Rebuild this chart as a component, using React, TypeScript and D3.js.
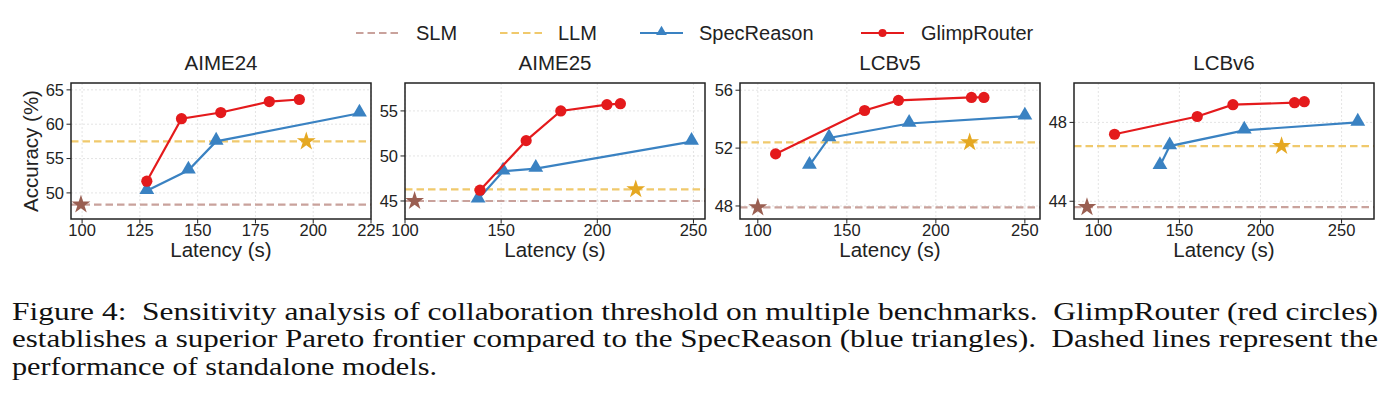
import React from 'react';
import * as d3 from 'd3';

// benchmark names, one per panel
const benchmarks = ['AIME24', 'AIME25', 'LCBv5', 'LCBv6'];

// GlimpRouter sweep: latency (s) and accuracy (%)
const glimpLatency = [
  [128, 143, 160, 181, 194],
  [139, 163, 181, 205, 212],
  [110, 160, 179, 220, 227],
  [110, 161, 183, 221, 227],
];
const glimpAccuracy = [
  [51.7, 60.8, 61.7, 63.3, 63.6],
  [46.2, 51.7, 55.0, 55.7, 55.8],
  [51.6, 54.6, 55.3, 55.5, 55.5],
  [47.4, 48.3, 48.9, 49.0, 49.05],
];

// SpecReason sweep
const specLatency = [
  [128, 146, 158, 220],
  [138, 151, 168, 249],
  [129, 140, 185, 250],
  [138, 144, 190, 260],
];
const specAccuracy = [
  [50.3, 53.3, 57.5, 61.6],
  [45.2, 48.3, 48.6, 51.6],
  [50.8, 52.7, 53.7, 54.2],
  [45.8, 46.8, 47.6, 48.0],
];

// standalone models: [latency, accuracy]
const slmPoint = [
  [99.5, 48.3],
  [105, 45.0],
  [100, 47.9],
  [93, 43.7],
];
const llmPoint = [
  [197, 57.5],
  [220, 46.3],
  [219, 52.4],
  [213, 46.8],
];

// axis ranges and tick labels
const xDomains = [[95.2, 225], [100, 256], [90, 258.5], [85, 270]];
const yDomains = [[46.2, 66], [43, 58.1], [47.1, 56.5], [43.1, 50.0]];
const xTickValues = [
  [100, 125, 150, 175, 200, 225],
  [100, 150, 200, 250],
  [100, 150, 200, 250],
  [100, 150, 200, 250],
];
const yTickValues = [[50, 55, 60, 65], [45, 50, 55], [48, 52, 56], [44, 48]];

const captionLines = [
  'Figure 4:  Sensitivity analysis of collaboration threshold on multiple benchmarks.  GlimpRouter (red circles)',
  'establishes a superior Pareto frontier compared to the SpecReason (blue triangles).  Dashed lines represent the',
  'performance of standalone models.',
];

const W = 1397;
const H = 414;
const panelLeft = [71, 405, 740, 1074];
const panelWidth = 300;
const top = 83;
const bottom = 219;

const RED = '#e41a1c';
const BLUE = '#3a82c2';
const SLM_LINE = '#c9a29c';
const SLM_STAR = '#9a5f52';
const LLM_LINE = '#f0c96c';
const LLM_STAR = '#e5a822';
const INK = '#222';
const SANS = '"Liberation Sans", Arial, sans-serif';
const SERIF = '"Times New Roman", Times, "Liberation Serif", serif';

const triangle = d3.symbol(d3.symbolTriangle, 95)();
const star = d3.symbol(d3.symbolStar, 110)();
const legendTriangle = d3.symbol(d3.symbolTriangle, 50)();

function Panel({ i }: { i: number }) {
  const x0 = panelLeft[i];
  const x = d3.scaleLinear().domain(xDomains[i]).range([x0, x0 + panelWidth]);
  const y = d3.scaleLinear().domain(yDomains[i]).range([bottom, top]);
  const line = d3
    .line<[number, number]>()
    .x((d) => x(d[0]))
    .y((d) => y(d[1]));
  const glimp = glimpLatency[i].map((v, k) => [v, glimpAccuracy[i][k]] as [number, number]);
  const spec = specLatency[i].map((v, k) => [v, specAccuracy[i][k]] as [number, number]);
  const [sx, sy] = slmPoint[i];
  const [lx, ly] = llmPoint[i];

  return (
    <g>
      <defs>
        <clipPath id={`clip${i}`}>
          <rect x={x0} y={top} width={panelWidth} height={bottom - top} />
        </clipPath>
      </defs>
      {/* grid */}
      {xTickValues[i].map((t) => (
        <line key={'gx' + t} x1={x(t)} x2={x(t)} y1={top} y2={bottom} stroke="#ddd" strokeWidth={0.8} strokeDasharray="2,2" />
      ))}
      {yTickValues[i].map((t) => (
        <line key={'gy' + t} x1={x0} x2={x0 + panelWidth} y1={y(t)} y2={y(t)} stroke="#ddd" strokeWidth={0.8} strokeDasharray="2,2" />
      ))}
      <g clipPath={`url(#clip${i})`}>
        {/* standalone baselines */}
        <line x1={x0} x2={x0 + panelWidth} y1={y(sy)} y2={y(sy)} stroke={SLM_LINE} strokeWidth={2.2} strokeDasharray="7.5,4" />
        <line x1={x0} x2={x0 + panelWidth} y1={y(ly)} y2={y(ly)} stroke={LLM_LINE} strokeWidth={2.2} strokeDasharray="7.5,4" />
        <path d={star} transform={`translate(${x(sx)},${y(sy)})`} fill={SLM_STAR} />
        <path d={star} transform={`translate(${x(lx)},${y(ly)})`} fill={LLM_STAR} />
        {/* SpecReason */}
        <path d={line(spec) ?? ''} fill="none" stroke={BLUE} strokeWidth={2.2} />
        {spec.map((d, k) => (
          <path key={'s' + k} d={triangle} transform={`translate(${x(d[0])},${y(d[1]) - 1})`} fill={BLUE} />
        ))}
        {/* GlimpRouter */}
        <path d={line(glimp) ?? ''} fill="none" stroke={RED} strokeWidth={2.2} />
        {glimp.map((d, k) => (
          <circle key={'g' + k} cx={x(d[0])} cy={y(d[1])} r={5.6} fill={RED} />
        ))}
      </g>
      {/* frame */}
      <rect x={x0} y={top} width={panelWidth} height={bottom - top} fill="none" stroke={INK} strokeWidth={1.5} />
      {/* ticks */}
      {xTickValues[i].map((t) => (
        <g key={'tx' + t}>
          <line x1={x(t)} x2={x(t)} y1={bottom} y2={bottom + 4.5} stroke={INK} strokeWidth={1} />
          <text x={x(t)} y={236} textAnchor="middle" fontSize={16.5} fill={INK} fontFamily={SANS}>
            {t}
          </text>
        </g>
      ))}
      {yTickValues[i].map((t) => (
        <g key={'ty' + t}>
          <line x1={x0 - 4.5} x2={x0} y1={y(t)} y2={y(t)} stroke={INK} strokeWidth={1} />
          <text x={x0 - 7} y={y(t)} dy="0.35em" textAnchor="end" fontSize={16.5} fill={INK} fontFamily={SANS}>
            {t}
          </text>
        </g>
      ))}
      <text x={x0 + panelWidth / 2} y={70} textAnchor="middle" fontSize={20.5} fill={INK} fontFamily={SANS}>
        {benchmarks[i]}
      </text>
      <text x={x0 + panelWidth / 2} y={257} textAnchor="middle" fontSize={20.5} fill={INK} fontFamily={SANS}>
        Latency (s)
      </text>
    </g>
  );
}

function Legend() {
  const cy = 33;
  return (
    <g fontFamily={SANS} fontSize={20} fill={INK}>
      <line x1={356} x2={399} y1={cy} y2={cy} stroke={SLM_LINE} strokeWidth={2.2} strokeDasharray="7.5,4" />
      <text x={416} y={cy} dy="0.36em">SLM</text>
      <line x1={500} x2={543} y1={cy} y2={cy} stroke={LLM_LINE} strokeWidth={2.2} strokeDasharray="7.5,4" />
      <text x={558} y={cy} dy="0.36em">LLM</text>
      <line x1={640} x2={683} y1={cy} y2={cy} stroke={BLUE} strokeWidth={2.2} />
      <path d={legendTriangle} transform={`translate(661.5,${cy - 1})`} fill={BLUE} />
      <text x={699} y={cy} dy="0.36em">SpecReason</text>
      <line x1={861} x2={904} y1={cy} y2={cy} stroke={RED} strokeWidth={2.2} />
      <circle cx={882.5} cy={cy} r={4} fill={RED} />
      <text x={921} y={cy} dy="0.36em">GlimpRouter</text>
    </g>
  );
}

export default function App() {
  const captionWidths = [1366, 1366, 425];
  return (
    <svg
      width={W}
      height={H}
      viewBox={`0 0 ${W} ${H}`}
      style={{ position: 'absolute', left: 0, top: 0, background: '#fff' }}
    >
      <rect width={W} height={H} fill="#fff" />
      <Legend />
      {benchmarks.map((_, i) => (
        <Panel key={i} i={i} />
      ))}
      <text
        transform="translate(31,151) rotate(-90)"
        textAnchor="middle"
        dy="0.35em"
        fontSize={20.5}
        fill={INK}
        fontFamily={SANS}
      >
        Accuracy (%)
      </text>
      {captionLines.map((s, k) => (
        <text
          key={k}
          x={12}
          y={320 + k * 27.3}
          fontSize={26}
          fill="#111"
          fontFamily={SERIF}
          textLength={captionWidths[k]}
          lengthAdjust="spacingAndGlyphs"
          xmlSpace="preserve"
        >
          {s}
        </text>
      ))}
    </svg>
  );
}
